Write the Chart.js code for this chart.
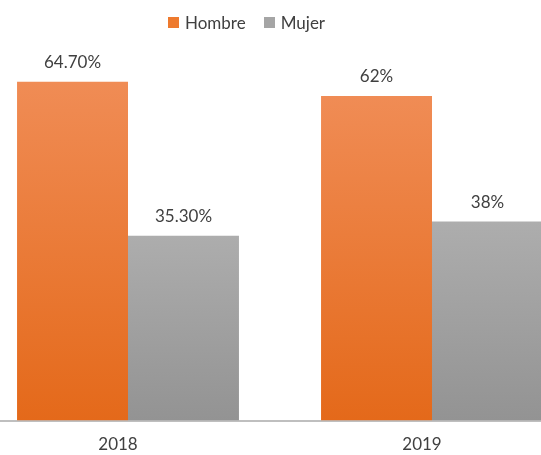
<!DOCTYPE html>
<html>
<head>
<meta charset="utf-8">
<script src="https://cdn.jsdelivr.net/npm/chart.js@4/dist/chart.umd.min.js"></script>
<style>
  html, body { margin: 0; padding: 0; background: #fff; overflow: hidden; }
  body { width: 541px; height: 455px; position: relative; font-family: Lato, sans-serif; }
  #wrap { position: absolute; left: -24px; top: 0; width: 608px; height: 469px; }
  #legend { position: absolute; top: 12px; left: 168px; font-size: 17px; color: #404040; display: flex; align-items: center; }
  #legend .sw { display: inline-block; width: 11px; height: 11px; margin-right: 6px; }
  #legend .item { display: flex; align-items: center; margin-right: 18px; }
</style>
</head>
<body>
<div id="wrap"><canvas id="chart"></canvas></div>
<div id="legend"></div>
<script>
// Gender split per year (percent)
const years = ['2018', '2019'];
const hombre = [64.7, 62];
const mujer = [35.3, 38];
const labelsHombre = ['64.70%', '62%'];
const labelsMujer = ['35.30%', '38%'];

const orangeTop = '#F08C55', orangeBottom = '#E4691A';
const grayTop = '#ADADAD', grayBottom = '#939393';

function barGradient(top, bottom) {
    return function (ctx) {
        const chart = ctx.chart;
        const area = chart.chartArea;
        if (!area || ctx.raw === undefined) return bottom;
        const yTop = chart.scales.y.getPixelForValue(ctx.raw);
        const g = chart.ctx.createLinearGradient(0, yTop, 0, area.bottom);
        g.addColorStop(0, top);
        g.addColorStop(1, bottom);
        return g;
    };
}

// Value labels above each bar
const valueLabels = {
    id: 'valueLabels',
    afterDatasetsDraw(chart) {
        const ctx = chart.ctx;
        ctx.save();
        ctx.font = '17px Lato, sans-serif';
        ctx.fillStyle = '#404040';
        ctx.textAlign = 'center';
        ctx.textBaseline = 'middle';
        chart.data.datasets.forEach((ds, i) => {
            chart.getDatasetMeta(i).data.forEach((bar, j) => {
                ctx.fillText(ds.valueText[j], bar.x, bar.y - 19);
            });
        });
        ctx.restore();
    }
};

const chart = new Chart(document.getElementById('chart'), {
    type: 'bar',
    data: {
        labels: years,
        datasets: [
            {
                label: 'Hombre',
                data: hombre,
                valueText: labelsHombre,
                backgroundColor: barGradient(orangeTop, orangeBottom),
                swatch: '#EE7A2E',
                categoryPercentage: 0.73,
                barPercentage: 1
            },
            {
                label: 'Mujer',
                data: mujer,
                valueText: labelsMujer,
                backgroundColor: barGradient(grayTop, grayBottom),
                swatch: '#A5A5A5',
                categoryPercentage: 0.73,
                barPercentage: 1
            }
        ]
    },
    options: {
        responsive: true,
        maintainAspectRatio: false,
        animation: false,
        layout: { padding: { top: 54, bottom: 0, left: 0, right: 0 } },
        plugins: {
            legend: { display: false },
            tooltip: { enabled: false }
        },
        scales: {
            y: {
                display: false,
                min: 0,
                max: 70
            },
            x: {
                grid: { display: false, drawTicks: false },
                border: { display: true, color: '#BFBFBF', width: 2 },
                ticks: {
                    color: '#404040',
                    font: { family: 'Lato', size: 17 },
                    padding: 14,
                    labelOffset: -10
                }
            }
        }
    },
    plugins: [valueLabels]
});

// HTML legend
const legend = document.getElementById('legend');
chart.data.datasets.forEach(ds => {
    const item = document.createElement('span');
    item.className = 'item';
    const sw = document.createElement('span');
    sw.className = 'sw';
    sw.style.background = ds.swatch;
    item.appendChild(sw);
    item.appendChild(document.createTextNode(ds.label));
    legend.appendChild(item);
});
</script>
</body>
</html>
